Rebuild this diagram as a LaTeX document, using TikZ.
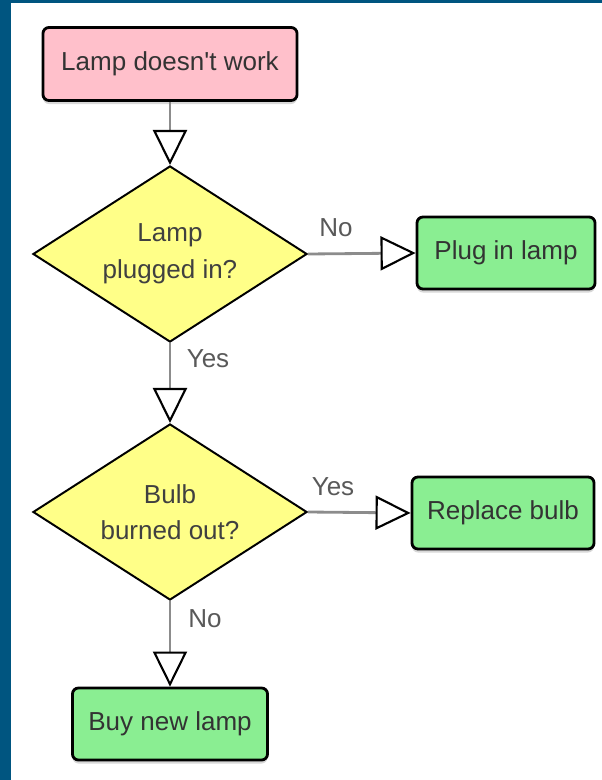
\documentclass[tikz,border=0pt]{standalone}
\usepackage{fontspec}
\setmainfont{Liberation Sans}
\usetikzlibrary{arrows.meta,shapes.geometric,shadows}

\definecolor{frameblue}{RGB}{0,85,128}
\definecolor{boxpink}{RGB}{255,192,203}
\definecolor{boxgreen}{RGB}{138,238,146}
\definecolor{qyellow}{RGB}{255,255,136}

\tikzset{
	stepbox/.style={draw=black, line width=2pt, rounded corners=0.15cm, minimum height=1.8cm,
		text=black!80, drop shadow={shadow xshift=0pt, shadow yshift=-2.5pt, fill=black!30}},
	question/.style={diamond, shape aspect=1.6, draw=black, line width=1.4pt, fill=qyellow, align=center,
		minimum width=6.85cm, minimum height=4.4cm, inner sep=0pt, text=black!75},
	flow/.style={draw=black!45, line width=2pt,
		-{Triangle[length=0.875cm, width=0.85cm, line width=1.5pt, color=black, fill=white]}},
	lbl/.style={text=black!65}
}

\begin{document}
\begin{tikzpicture}[x=0.025cm, y=-0.025cm, font=\fontsize{18.5}{26}\selectfont]
			%%%%% START %%%%%
			
			\fill[white] (0, 0) rectangle (602, 780);
			\fill[frameblue] (0, 0) rectangle (11, 780);
			\fill[frameblue] (0, 0) rectangle (602, 3);
			
			\node[stepbox, fill=boxpink, minimum width=6.35cm, minimum height=1.825cm] (lamp) at (170, 64) {Lamp doesn\textquotesingle t work};
			\node[question] (plugged) at (170, 254) {Lamp\\plugged in?};
			\node[stepbox, fill=boxgreen, minimum width=4.45cm] (plugin) at (506, 253) {Plug in lamp};
			
			\node[question] (burned) at (170, 512) {Bulb\\burned out?};
			\node[stepbox, fill=boxgreen, minimum width=4.55cm] (replace) at (503, 513) {Replace bulb};
			\node[stepbox, fill=boxgreen, minimum width=4.875cm] (buy) at (170, 724) {Buy new lamp};
			
			\draw[flow] (lamp.south) -- (plugged.north);
			\draw[flow] (plugged.east) -- (plugin.west);
			\draw[flow] (plugged.south) -- (burned.north);
			\draw[flow] (burned.east) -- (replace.west);
			\draw[flow] (burned.south) -- (buy.north);
			
			\node[lbl] (no1) at (336, 228) {No};
			\node[lbl] (yes1) at (208, 359) {Yes};
			\node[lbl] (yes2) at (333, 487) {Yes};
			\node[lbl] (no2) at (205, 619) {No};
			
			%%%%% END %%%%%
\end{tikzpicture}
\end{document}
